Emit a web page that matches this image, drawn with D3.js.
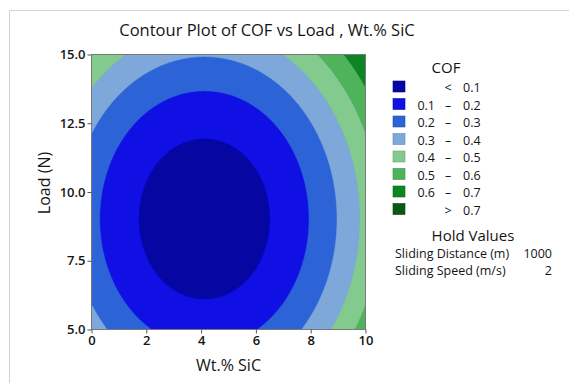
<!DOCTYPE html>
<html>
<head>
<meta charset="utf-8">
<script src="https://cdn.jsdelivr.net/npm/d3@7"></script>
<style>
  body { margin: 0; background: #fff; }
  text { font-family: "Open Sans", "Noto Sans", sans-serif; fill: #151515; }
</style>
</head>
<body>
<svg id="chart" width="569" height="383"></svg>
<script>
// Fitted response surface for COF with Sliding Distance and Sliding Speed held
const modelTerms = ["Constant", "Wt.% SiC", "Load", "Wt.% SiC^2", "Load^2"];
const modelCoefs = [0.8452, -0.09311, -0.13710, 0.0113, 0.0076];

const xDomain = [0, 10];
const yDomain = [5, 15];
const xTicks = [0, 2, 4, 6, 8, 10];
const yTicks = [5, 7.5, 10, 12.5, 15];

// Contour levels and the band each colour stands for
const levels = [0.1, 0.2, 0.3, 0.4, 0.5, 0.6, 0.7];
const bandLow = ["", "0.1", "0.2", "0.3", "0.4", "0.5", "0.6", ""];
const bandSep = ["<", "–", "–", "–", "–", "–", "–", ">"];
const bandHigh = ["0.1", "0.2", "0.3", "0.4", "0.5", "0.6", "0.7", "0.7"];
const bandColors = ["#0606a2", "#1010e4", "#2c64d8", "#7ea7da", "#82ca8e", "#4fb35c", "#0d8524", "#085a12"];

const holdNames = ["Sliding Distance (m)", "Sliding Speed (m/s)"];
const holdValues = [1000, 2];

const svg = d3.select("#chart");

// outer frame
svg.append("rect")
  .attr("x", 9.5).attr("y", 10.5)
  .attr("width", 580).attr("height", 400)
  .attr("fill", "none").attr("stroke", "#d4d4d4");

const plot = { left: 91.5, right: 365.5, top: 54.5, bottom: 329.5 };
const x = d3.scaleLinear().domain(xDomain).range([plot.left, plot.right]);
const y = d3.scaleLinear().domain(yDomain).range([plot.bottom, plot.top]);

function cof(sic, load) {
  const t = [1, sic, load, sic * sic, load * load];
  return d3.sum(t, (v, i) => v * modelCoefs[i]);
}

// sample the surface on a grid (row 0 = top of the plot)
const nx = 300, ny = 300;
const grid = new Array(nx * ny);
for (let j = 0; j < ny; j++) {
  const load = yDomain[1] - (j + 0.5) / ny * (yDomain[1] - yDomain[0]);
  for (let i = 0; i < nx; i++) {
    const sic = xDomain[0] + (i + 0.5) / nx * (xDomain[1] - xDomain[0]);
    grid[j * nx + i] = cof(sic, load);
  }
}

const contours = d3.contours().size([nx, ny]).thresholds(levels)(grid);

const project = d3.geoTransform({
  point: function (u, v) {
    const sic = xDomain[0] + u / nx * (xDomain[1] - xDomain[0]);
    const load = yDomain[1] - v / ny * (yDomain[1] - yDomain[0]);
    this.stream.point(x(sic), y(load));
  }
});
const path = d3.geoPath(project);

svg.append("clipPath").attr("id", "plotClip")
  .append("rect")
  .attr("x", plot.left).attr("y", plot.top)
  .attr("width", plot.right - plot.left).attr("height", plot.bottom - plot.top);

const body = svg.append("g").attr("clip-path", "url(#plotClip)");
body.append("rect")
  .attr("x", plot.left).attr("y", plot.top)
  .attr("width", plot.right - plot.left).attr("height", plot.bottom - plot.top)
  .attr("fill", bandColors[0]);

body.selectAll("path.band")
  .data(contours)
  .join("path")
  .attr("class", "band")
  .attr("d", path)
  .attr("fill", (d, i) => bandColors[i + 1])
  .attr("stroke", (d, i) => bandColors[i + 1])
  .attr("stroke-width", 0.6);

// plot border
svg.append("rect")
  .attr("x", plot.left).attr("y", plot.top)
  .attr("width", plot.right - plot.left).attr("height", plot.bottom - plot.top)
  .attr("fill", "none").attr("stroke", "#7a7a7a").attr("stroke-width", 1);

// axes
const xAxis = svg.append("g")
  .attr("transform", `translate(0,${plot.bottom})`)
  .call(d3.axisBottom(x).tickValues(xTicks).tickFormat(d3.format("d")).tickSize(4).tickPadding(2));
const yAxis = svg.append("g")
  .attr("transform", `translate(${plot.left},0)`)
  .call(d3.axisLeft(y).tickValues(yTicks).tickFormat(d3.format(".1f")).tickSize(4).tickPadding(2));
[xAxis, yAxis].forEach(g => {
  g.select(".domain").remove();
  g.selectAll(".tick line").attr("stroke", "#555");
  g.selectAll(".tick text")
    .style("font-family", '"Open Sans", sans-serif')
    .style("font-size", "13px").style("font-weight", 600).attr("fill", "#151515");
});

// titles
svg.append("text")
  .attr("x", 267).attr("y", 36)
  .attr("text-anchor", "middle")
  .style("font-size", "16.5px")
  .text("Contour Plot of COF vs Load , Wt.% SiC");

svg.append("text")
  .attr("x", (plot.left + plot.right) / 2).attr("y", 371)
  .attr("text-anchor", "middle")
  .style("font-size", "16px")
  .text("Wt.% SiC");

svg.append("text")
  .attr("transform", `translate(50,183) rotate(-90)`)
  .attr("text-anchor", "middle")
  .style("font-size", "16px")
  .text("Load (N)");

// legend
const legend = svg.append("g");
legend.append("text")
  .attr("x", 446).attr("y", 73)
  .attr("text-anchor", "middle")
  .style("font-size", "15px")
  .text("COF");

const rows = legend.selectAll("g.row")
  .data(bandColors)
  .join("g")
  .attr("class", "row")
  .attr("transform", (d, i) => `translate(0,${81 + i * 17.5})`);
rows.append("rect")
  .attr("x", 393).attr("y", 0)
  .attr("width", 12).attr("height", 11)
  .attr("fill", d => d)
  .attr("stroke", d => d3.color(d).darker(0.6)).attr("stroke-width", 0.6);
rows.append("text")
  .attr("x", 435).attr("y", 11)
  .attr("text-anchor", "end")
  .style("font-size", "12.5px")
  .text((d, i) => bandLow[i]);
rows.append("text")
  .attr("x", 448).attr("y", 11)
  .attr("text-anchor", "middle")
  .style("font-size", "12.5px")
  .text((d, i) => bandSep[i]);
rows.append("text")
  .attr("x", 463).attr("y", 11)
  .attr("text-anchor", "start")
  .style("font-size", "12.5px")
  .text((d, i) => bandHigh[i]);

// hold values
legend.append("text")
  .attr("x", 473).attr("y", 240.5)
  .attr("text-anchor", "middle")
  .style("font-size", "15px")
  .text("Hold Values");
holdNames.forEach((name, i) => {
  legend.append("text")
    .attr("x", 395).attr("y", 258 + i * 16.5)
    .style("font-size", "12.5px")
    .text(name);
  legend.append("text")
    .attr("x", 552).attr("y", 258 + i * 16.5)
    .attr("text-anchor", "end")
    .style("font-size", "12.5px")
    .text(holdValues[i]);
});
</script>
</body>
</html>
